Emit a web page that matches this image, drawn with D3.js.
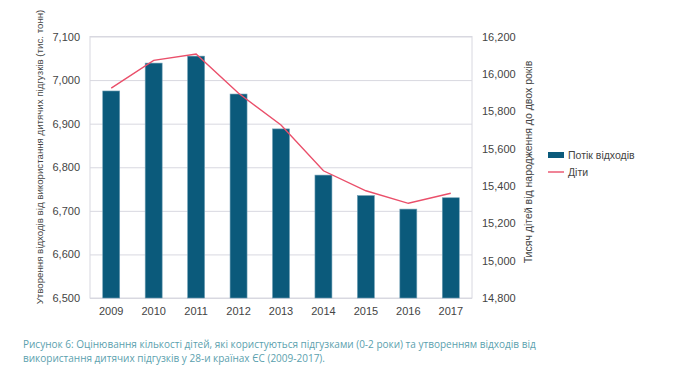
<!DOCTYPE html>
<html lang="uk">
<head>
<meta charset="UTF-8">
<title>Рисунок 6</title>
<script src="https://d3js.org/d3.v7.min.js"></script>
<style>
  body { margin: 0; background: #fff; }
  svg text { font-family: "Liberation Sans", Arial, sans-serif; }
  .tick text { font-size: 11px; fill: #444; }
  .grid line { stroke: #d8d8e0; }
  .grid path { stroke: none; }
  .caption { font-family: "Open Sans", sans-serif; font-size: 10px; fill: #5b9fae; }
</style>
</head>
<body>
<svg id="chart" width="698" height="377"></svg>
<script>
// data
const years = ["2009", "2010", "2011", "2012", "2013", "2014", "2015", "2016", "2017"];
const waste = [6975, 7039, 7055, 6968, 6888, 6782, 6735, 6704, 6730];       // тис. тонн
const children = [15924, 16072, 16106, 15896, 15726, 15481, 15374, 15307, 15361]; // тисяч дітей
const leftTicks = [6500, 6600, 6700, 6800, 6900, 7000, 7100];
const rightTicks = [14800, 15000, 15200, 15400, 15600, 15800, 16000, 16200];
const legendItems = ["Потік відходів", "Діти"];

const svg = d3.select("#chart");
const margin = {top: 36.5, left: 90, right: 226, bottom: 79};
const width = 698 - margin.left - margin.right,
      height = 377 - margin.top - margin.bottom;
const g = svg.append("g").attr("transform", `translate(${margin.left},${margin.top})`);

const x = d3.scaleBand().domain(years).range([0, width]).paddingInner(0.6).paddingOuter(0.3);
const y = d3.scaleLinear().domain([6500, 7100]).range([height, 0]);
const y1 = d3.scaleLinear().domain([14800, 16200]).range([height, 0]);

// grid
g.append("g").attr("class", "grid")
  .call(d3.axisLeft(y).tickValues(leftTicks).tickSize(-width).tickFormat(""));
g.append("rect").attr("width", width).attr("height", height)
  .attr("fill", "none").attr("stroke", "#d8d8e0");

// bars
g.selectAll("rect.bar").data(waste).enter().append("rect")
  .attr("class", "bar")
  .attr("x", (d, i) => x(years[i]))
  .attr("y", d => y(d))
  .attr("width", x.bandwidth())
  .attr("height", d => height - y(d))
  .attr("fill", "#0b5a7b")
  .attr("stroke", "#6f9fb5")
  .attr("stroke-width", 0.6);

// line
const line = d3.line()
  .x((d, i) => x(years[i]) + x.bandwidth() / 2)
  .y(d => y1(d));
g.append("path").datum(children)
  .attr("d", line)
  .attr("fill", "none")
  .attr("stroke", "#ea4f6a")
  .attr("stroke-width", 1.4);

// axes
const fmt = d3.format(",");
const ax = g.append("g").call(d3.axisLeft(y).tickValues(leftTicks).tickFormat(fmt).tickSize(0).tickPadding(10));
ax.select(".domain").remove();
const ar = g.append("g").attr("transform", `translate(${width},0)`)
  .call(d3.axisRight(y1).tickValues(rightTicks).tickFormat(fmt).tickSize(0).tickPadding(10));
ar.select(".domain").remove();
const ab = g.append("g").attr("transform", `translate(0,${height})`)
  .call(d3.axisBottom(x).tickSize(0).tickPadding(9));
ab.select(".domain").remove();

// axis titles
svg.append("text")
  .attr("transform", "translate(43,157) rotate(-90)")
  .attr("text-anchor", "middle")
  .attr("font-size", 9.7).attr("fill", "#444")
  .text("Утворення відходів від використання дитячих підгузків (тис. тонн)");
svg.append("text")
  .attr("transform", "translate(532,162) rotate(-90)")
  .attr("text-anchor", "middle")
  .attr("font-size", 10.5).attr("fill", "#444")
  .text("Тисяч дітей від народження до двох років");

// legend
const lg = svg.append("g").attr("transform", "translate(548,155)");
lg.append("rect").attr("x", 0).attr("y", -3).attr("width", 16).attr("height", 6).attr("fill", "#0b5a7b");
lg.append("line").attr("x1", 0).attr("x2", 16).attr("y1", 17).attr("y2", 17)
  .attr("stroke", "#ea4f6a").attr("stroke-width", 1.4);
lg.selectAll("text").data(legendItems).enter().append("text")
  .attr("x", 20).attr("y", (d, i) => i * 17 + 4)
  .attr("font-size", 10.5).attr("fill", "#444")
  .text(d => d);

// caption
const cap = svg.append("text").attr("class", "caption").attr("x", 23);
cap.append("tspan").attr("x", 23).attr("y", 348)
  .text("Рисунок 6: Оцінювання кількості дітей, які користуються підгузками (0-2 роки) та утворенням відходів від");
cap.append("tspan").attr("x", 23).attr("y", 362)
  .text("використання дитячих підгузків у 28-и країнах ЄС (2009-2017).");
</script>
</body>
</html>
